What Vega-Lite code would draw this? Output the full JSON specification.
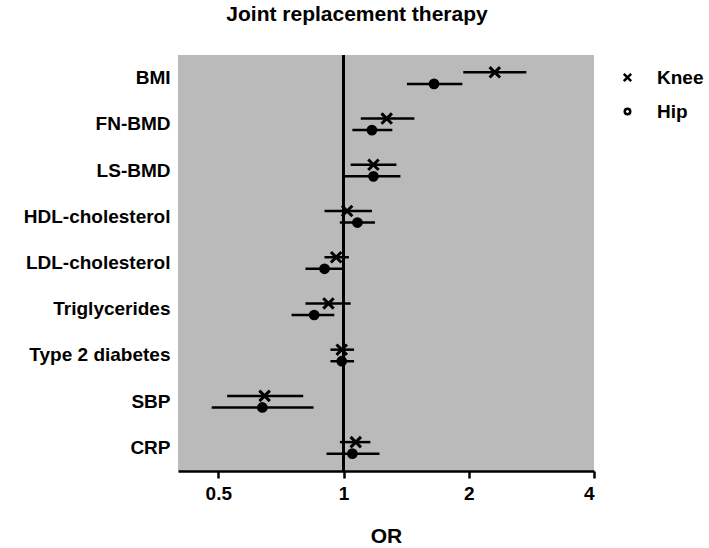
{
  "$schema": "https://vega.github.io/schema/vega-lite/v6.json",
  "autosize": {"type": "none"},
  "width": 416,
  "height": 416,
  "padding": {"left": 178, "top": 55, "right": 115, "bottom": 77},
  "background": "white",
  "title": {"text": "Joint replacement therapy", "font": "Liberation Sans", "fontSize": 21, "fontWeight": "bold", "color": "black", "anchor": "middle", "dx": -29, "offset": 29},
  "config": {
    "view": {"fill": "#bababa", "stroke": null},
    "font": "Liberation Sans"
  },
  "data": {"values": [
    {"cat": "BMI", "joint": "Knee", "or": 2.31, "lo": 1.94, "hi": 2.75},
    {"cat": "BMI", "joint": "Hip", "or": 1.65, "lo": 1.42, "hi": 1.93},
    {"cat": "FN-BMD", "joint": "Knee", "or": 1.27, "lo": 1.10, "hi": 1.48},
    {"cat": "FN-BMD", "joint": "Hip", "or": 1.17, "lo": 1.05, "hi": 1.31},
    {"cat": "LS-BMD", "joint": "Knee", "or": 1.18, "lo": 1.04, "hi": 1.34},
    {"cat": "LS-BMD", "joint": "Hip", "or": 1.18, "lo": 1.0, "hi": 1.37},
    {"cat": "HDL-cholesterol", "joint": "Knee", "or": 1.02, "lo": 0.90, "hi": 1.17},
    {"cat": "HDL-cholesterol", "joint": "Hip", "or": 1.08, "lo": 0.98, "hi": 1.19},
    {"cat": "LDL-cholesterol", "joint": "Knee", "or": 0.96, "lo": 0.90, "hi": 1.03},
    {"cat": "LDL-cholesterol", "joint": "Hip", "or": 0.90, "lo": 0.81, "hi": 1.0},
    {"cat": "Triglycerides", "joint": "Knee", "or": 0.92, "lo": 0.81, "hi": 1.04},
    {"cat": "Triglycerides", "joint": "Hip", "or": 0.85, "lo": 0.75, "hi": 0.95},
    {"cat": "Type 2 diabetes", "joint": "Knee", "or": 0.99, "lo": 0.93, "hi": 1.06},
    {"cat": "Type 2 diabetes", "joint": "Hip", "or": 0.99, "lo": 0.93, "hi": 1.06},
    {"cat": "SBP", "joint": "Knee", "or": 0.646, "lo": 0.525, "hi": 0.80},
    {"cat": "SBP", "joint": "Hip", "or": 0.638, "lo": 0.482, "hi": 0.847},
    {"cat": "CRP", "joint": "Knee", "or": 1.07, "lo": 0.98, "hi": 1.16},
    {"cat": "CRP", "joint": "Hip", "or": 1.05, "lo": 0.91, "hi": 1.22}
  ]},
  "encoding": {
    "y": {
      "field": "cat", "type": "nominal",
      "sort": ["BMI", "FN-BMD", "LS-BMD", "HDL-cholesterol", "LDL-cholesterol", "Triglycerides", "Type 2 diabetes", "SBP", "CRP"],
      "scale": {"paddingInner": 0, "paddingOuter": 0},
      "axis": {"title": null, "domain": false, "ticks": false, "labelPadding": 8, "labelFont": "Liberation Sans", "labelFontSize": 19, "labelFontWeight": "bold", "labelColor": "black", "grid": false}
    },
    "yOffset": {"field": "joint", "type": "nominal", "sort": ["Knee", "Hip"], "scale": {"paddingInner": 0, "paddingOuter": 1}}
  },
  "layer": [
    {
      "mark": {"type": "rule", "color": "black", "strokeWidth": 2.5},
      "encoding": {
        "x": {"field": "lo", "type": "quantitative",
          "scale": {"type": "log", "domain": [0.4, 4], "nice": false},
          "axis": {"title": "OR", "values": [0.5, 1, 2, 4], "format": "~g", "grid": false,
            "domainColor": "black", "domainWidth": 2.5, "tickColor": "black", "tickWidth": 2.5, "tickSize": 7,
            "labelFont": "Liberation Sans", "labelFontSize": 19, "labelFontWeight": "bold", "labelColor": "black", "labelPadding": 6,
            "titleFont": "Liberation Sans", "titleFontSize": 21, "titleFontWeight": "bold", "titleColor": "black", "titlePadding": 22}},
        "x2": {"field": "hi"}
      }
    },
    {
      "mark": {"type": "rule", "color": "black", "strokeWidth": 2.5},
      "encoding": {"x": {"datum": 1}, "y": null, "yOffset": null}
    },
    {
      "mark": {"type": "point", "filled": false, "color": "black", "stroke": "black", "strokeWidth": 3, "opacity": 1, "size": 60},
      "encoding": {
        "x": {"field": "or", "type": "quantitative"},
        "shape": {"field": "joint", "type": "nominal", "sort": ["Knee", "Hip"],
          "scale": {"domain": ["Knee", "Hip"], "range": ["M-1.35,-1.35L1.35,1.35M-1.35,1.35L1.35,-1.35", "circle"]},
          "legend": {"title": null, "orient": "none", "legendX": 440, "legendY": 13, "padding": 0,
            "labelFont": "Liberation Sans", "labelFontSize": 19, "labelFontWeight": "bold", "labelColor": "black",
            "labelOffset": 20, "rowPadding": 14, "symbolSize": 30, "symbolStrokeWidth": 2.5}
        }
      }
    },
    {
      "transform": [{"filter": "datum.joint === 'Hip'"}],
      "mark": {"type": "circle", "color": "black", "opacity": 1, "size": 60},
      "encoding": {
        "x": {"field": "or", "type": "quantitative"}
      }
    }
  ]
}
